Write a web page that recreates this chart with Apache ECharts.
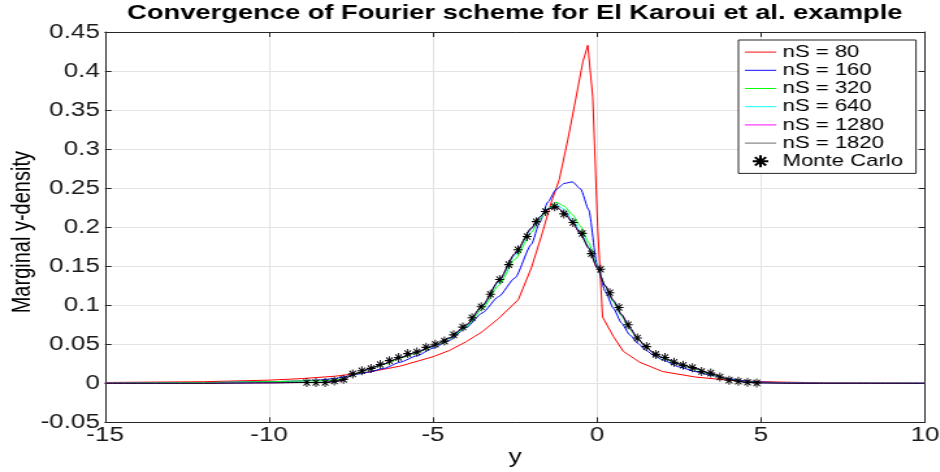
<!DOCTYPE html>
<html>
<head>
<meta charset="utf-8">
<script src="https://cdn.jsdelivr.net/npm/echarts@6/dist/echarts.min.js"></script>
<style>
  html, body { margin: 0; padding: 0; background: #fff; overflow: hidden; }
  /* the source figure is stretched sideways, so draw narrower and widen it */
  #chart { width: 723px; height: 472px; transform: scaleX(1.3); transform-origin: 0 0; }
</style>
</head>
<body>
<div id="chart"></div>
<script>
// Fourier scheme grid (shared by nS = 160 ... 1820)
var gridX = [-15, -12, -10, -9, -8.5, -8, -7.75, -7.5, -7.25, -7, -6.5, -6, -5.5, -5, -4.5, -4, -3.5, -3, -2.5, -2,
  -1.75, -1.5, -1.25, -1, -0.75, -0.5, -0.25, 0, 0.25, 0.5, 0.75, 1, 1.25, 1.5, 1.75, 2, 2.5, 3, 3.5, 4, 4.5, 5, 6, 7, 8, 10];

var nS160 = [0, 0.001, 0.002, 0.003, 0.004, 0.006, 0.008, 0.010, 0.012, 0.014, 0.019, 0.027, 0.035, 0.045, 0.055, 0.071,
  0.090, 0.111, 0.135, 0.178, 0.206, 0.232, 0.248, 0.256, 0.258, 0.249, 0.222, 0.152, 0.118, 0.096, 0.077, 0.062,
  0.051, 0.042, 0.035, 0.030, 0.021, 0.015, 0.010, 0.006, 0.003, 0.0015, 0.0005, 0, 0, 0];
var nS320 = [0, 0.001, 0.002, 0.003, 0.003, 0.004, 0.006, 0.009, 0.013, 0.017, 0.024, 0.032, 0.039, 0.047, 0.057, 0.072,
  0.095, 0.125, 0.159, 0.193, 0.210, 0.223, 0.232, 0.227, 0.216, 0.201, 0.180, 0.150, 0.124, 0.104, 0.086, 0.069,
  0.056, 0.046, 0.038, 0.032, 0.024, 0.018, 0.011, 0.005, 0.002, 0.0007, 0, 0, 0, 0];
var nS640 = [0, 0, 0.001, 0.001, 0.001, 0.002, 0.005, 0.010, 0.014, 0.018, 0.025, 0.033, 0.040, 0.048, 0.058, 0.073,
  0.098, 0.129, 0.164, 0.197, 0.212, 0.224, 0.229, 0.223, 0.210, 0.194, 0.175, 0.149, 0.125, 0.105, 0.087, 0.070,
  0.057, 0.046, 0.038, 0.033, 0.025, 0.019, 0.012, 0.005, 0.0015, 0.0005, 0, 0, 0, 0];
var nS1280 = [0, 0, 0.0005, 0.001, 0.001, 0.002, 0.004, 0.010, 0.014, 0.018, 0.025, 0.033, 0.040, 0.048, 0.058, 0.074,
  0.099, 0.131, 0.166, 0.198, 0.213, 0.223, 0.226, 0.219, 0.206, 0.191, 0.173, 0.148, 0.125, 0.106, 0.088, 0.071,
  0.057, 0.046, 0.038, 0.033, 0.025, 0.019, 0.012, 0.005, 0.0015, 0.0005, 0, 0, 0, 0];
var nS1820 = [0, 0, 0.0005, 0.001, 0.001, 0.002, 0.004, 0.010, 0.014, 0.018, 0.025, 0.033, 0.040, 0.048, 0.058, 0.074,
  0.099, 0.131, 0.166, 0.199, 0.213, 0.223, 0.226, 0.219, 0.206, 0.191, 0.173, 0.148, 0.125, 0.106, 0.088, 0.071,
  0.057, 0.046, 0.038, 0.033, 0.025, 0.019, 0.012, 0.005, 0.0015, 0.0005, 0, 0, 0, 0];

// nS = 80 is coarse, it has its own points
var redX = [-15, -12, -10, -9, -8, -7, -6, -5, -4.5, -4, -3.5, -3, -2.4, -2, -1.7, -1.4, -1.15, -0.89, -0.69, -0.43,
  -0.28, -0.13, 0.02, 0.17, 0.5, 0.8, 1.3, 2, 3, 4, 5, 7, 10];
var nS80 = [0.001, 0.002, 0.004, 0.006, 0.009, 0.014, 0.022, 0.034, 0.042, 0.053, 0.066, 0.083, 0.107, 0.148, 0.188,
  0.231, 0.261, 0.312, 0.355, 0.412, 0.433, 0.367, 0.20, 0.085, 0.060, 0.041, 0.027, 0.015, 0.008, 0.004, 0.002, 0.0005, 0];

// Monte Carlo histogram
var mcX = [-8.85, -8.57, -8.29, -8.01, -7.73, -7.45, -7.17, -6.89, -6.61, -6.33, -6.05, -5.77, -5.49, -5.21, -4.93,
  -4.65, -4.37, -4.09, -3.81, -3.53, -3.25, -2.97, -2.69, -2.41, -2.13, -1.85, -1.57, -1.29, -1.01, -0.73, -0.45,
  -0.17, 0.11, 0.39, 0.67, 0.95, 1.23, 1.51, 1.79, 2.07, 2.35, 2.63, 2.91, 3.19, 3.47, 3.75, 4.03, 4.31, 4.59, 4.87];
var mcY = [0.001, 0.001, 0.001, 0.003, 0.005, 0.012, 0.016, 0.019, 0.024, 0.029, 0.033, 0.038, 0.040, 0.046, 0.050,
  0.054, 0.062, 0.072, 0.084, 0.098, 0.114, 0.133, 0.152, 0.171, 0.188, 0.207, 0.220, 0.226, 0.217, 0.206, 0.192,
  0.166, 0.146, 0.116, 0.097, 0.075, 0.058, 0.047, 0.037, 0.033, 0.027, 0.023, 0.020, 0.015, 0.013, 0.008, 0.004,
  0.0026, 0.0013, 0.0005];

var xTicks = { min: -15, max: 10, interval: 5 };
var yTicks = { min: -0.05, max: 0.45, interval: 0.05 };

var FONT = 'Liberation Sans';
var AXIS_COLOR = '#262626';
var star = 'path://M5,0L5,10M0,5L10,5M1.5,1.5L8.5,8.5M1.5,8.5L8.5,1.5';
var legendLine = 'path://M0,0H30V1.2H0Z';

function zip(xs, ys) {
  return xs.map(function (x, i) { return [x, ys[i]]; });
}

function lineSeries(name, xs, ys, color, smooth) {
  return {
    name: name,
    type: 'line',
    data: zip(xs, ys),
    symbol: 'none',
    smooth: smooth,
    smoothMonotone: 'x',
    lineStyle: { color: color, width: 1 },
    itemStyle: { color: color },
    z: 2
  };
}

function frameAxis(extra) {
  var base = {
    type: 'value',
    axisLine: { show: true, onZero: false, lineStyle: { color: AXIS_COLOR, width: 1 } },
    axisTick: { show: true, inside: true, length: 5, lineStyle: { color: AXIS_COLOR } },
    axisLabel: { show: false },
    splitLine: { show: false }
  };
  return Object.assign(base, extra);
}

var chart = echarts.init(document.getElementById('chart'));
chart.setOption({
  animation: false,
  backgroundColor: '#fff',
  title: {
    text: 'Convergence of Fourier scheme for El Karoui et al. example',
    left: 396,
    top: 3,
    padding: 0,
    textAlign: 'center',
    textStyle: { fontFamily: FONT, fontSize: 21, fontWeight: 'bold', color: '#000' }
  },
  grid: { left: 80.8, right: 11.5, top: 32, bottom: 49.7, outerBoundsMode: 'none', containLabel: false },
  legend: {
    orient: 'vertical',
    left: 568,
    top: 40,
    padding: [3, 10, 3, 5],
    itemWidth: 24,
    itemHeight: 12,
    itemGap: 0,
    backgroundColor: '#fff',
    borderColor: AXIS_COLOR,
    borderWidth: 1,
    borderRadius: 0,
    textStyle: { fontFamily: FONT, fontSize: 17, lineHeight: 18.2, color: '#000' },
    data: [
      { name: 'nS = 80', icon: legendLine },
      { name: 'nS = 160', icon: legendLine },
      { name: 'nS = 320', icon: legendLine },
      { name: 'nS = 640', icon: legendLine },
      { name: 'nS = 1280', icon: legendLine },
      { name: 'nS = 1820', icon: legendLine, itemStyle: { color: '#666' } },
      { name: 'Monte Carlo', icon: star }
    ]
  },
  xAxis: [
    frameAxis({
      min: xTicks.min, max: xTicks.max, interval: xTicks.interval,
      position: 'bottom',
      name: 'y',
      nameLocation: 'middle',
      nameGap: 25,
      nameMoveOverlap: false,
      nameTextStyle: { fontFamily: FONT, fontSize: 20, color: '#000' },
      axisLabel: { show: true, margin: 3, fontFamily: FONT, fontSize: 20, color: '#1a1a1a' },
      splitLine: { show: true, lineStyle: { color: '#e3e3e3', width: 1 } }
    }),
    frameAxis({ min: xTicks.min, max: xTicks.max, interval: xTicks.interval, position: 'top' })
  ],
  yAxis: [
    frameAxis({
      min: yTicks.min, max: yTicks.max, interval: yTicks.interval,
      position: 'left',
      name: 'Marginal y-density',
      nameLocation: 'middle',
      nameGap: 53,
      nameMoveOverlap: false,
      nameTextStyle: { fontFamily: FONT, fontSize: 20, color: '#000', padding: [0, 10, 0, 0] },
      axisLabel: {
        show: true, margin: 4, fontFamily: FONT, fontSize: 20, color: '#1a1a1a',
        formatter: function (v) { return String(+v.toFixed(2)); }
      },
      splitLine: { show: true, lineStyle: { color: '#e3e3e3', width: 1 } }
    }),
    frameAxis({ min: yTicks.min, max: yTicks.max, interval: yTicks.interval, position: 'right' })
  ],
  series: [
    lineSeries('nS = 80', redX, nS80, '#ff0000', false),
    lineSeries('nS = 160', gridX, nS160, '#0000ff', 0.2),
    lineSeries('nS = 320', gridX, nS320, '#00ff00', 0.2),
    lineSeries('nS = 640', gridX, nS640, '#00ffff', 0.2),
    lineSeries('nS = 1280', gridX, nS1280, '#ff00ff', 0.2),
    lineSeries('nS = 1820', gridX, nS1820, '#000000', 0.2),
    {
      name: 'Monte Carlo',
      type: 'scatter',
      data: zip(mcX, mcY),
      symbol: star,
      symbolSize: [7, 9],
      itemStyle: { color: 'rgba(0,0,0,0)', borderColor: '#000', borderWidth: 1, opacity: 1 },
      z: 3
    }
  ]
});
</script>
</body>
</html>
